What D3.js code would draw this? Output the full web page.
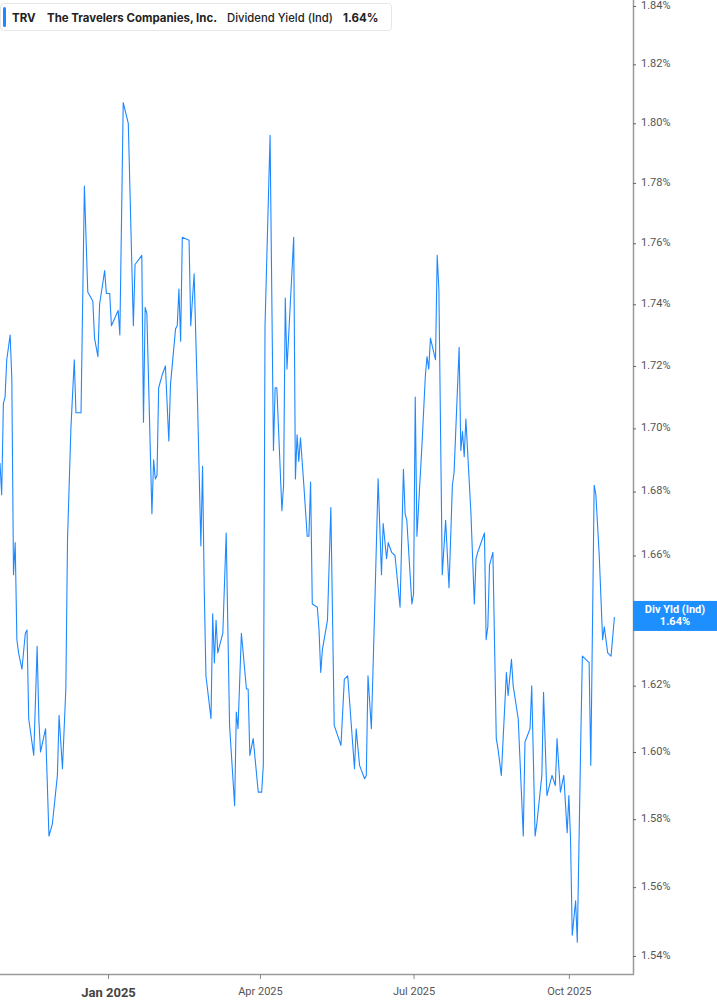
<!DOCTYPE html>
<html><head><meta charset="utf-8">
<script src="https://cdn.jsdelivr.net/npm/d3@7"></script>
<style>
html,body{margin:0;padding:0;background:#fff;}
svg{display:block;}
</style></head>
<body>
<svg id="chart" width="717" height="1005"></svg>
<script>
const ticker = "TRV";
const company = "The Travelers Companies, Inc.";
const metric = "Dividend Yield (Ind)";
const tagTitle = "Div Yld (Ind)";
const lastLabel = "1.64%";

const dates = [
"2024-10-29","2024-10-30","2024-10-31","2024-11-01","2024-11-02","2024-11-04","2024-11-05","2024-11-06","2024-11-07","2024-11-08",
"2024-11-09","2024-11-11","2024-11-13","2024-11-14","2024-11-15","2024-11-18","2024-11-20","2024-11-21","2024-11-22","2024-11-25",
"2024-11-27","2024-11-29","2024-12-02","2024-12-03","2024-12-05","2024-12-07","2024-12-08","2024-12-10","2024-12-12","2024-12-13",
"2024-12-15","2024-12-16","2024-12-18","2024-12-20","2024-12-23","2024-12-24","2024-12-26","2024-12-27","2024-12-30","2024-12-31",
"2025-01-02","2025-01-03","2025-01-07","2025-01-08","2025-01-10","2025-01-13","2025-01-16","2025-01-17","2025-01-21","2025-01-22",
"2025-01-23","2025-01-24","2025-01-27","2025-01-28","2025-01-29","2025-01-30","2025-01-31","2025-02-02","2025-02-04","2025-02-06",
"2025-02-07","2025-02-10","2025-02-11","2025-02-12","2025-02-13","2025-02-14","2025-02-18","2025-02-19","2025-02-21","2025-02-23",
"2025-02-25","2025-02-26","2025-02-27","2025-02-28","2025-03-03","2025-03-04","2025-03-05","2025-03-06","2025-03-07","2025-03-10",
"2025-03-12","2025-03-14","2025-03-17","2025-03-18","2025-03-19","2025-03-21","2025-03-24","2025-03-25","2025-03-26","2025-03-28",
"2025-03-31","2025-04-02","2025-04-03","2025-04-04","2025-04-07","2025-04-09","2025-04-10","2025-04-11","2025-04-14","2025-04-15",
"2025-04-16","2025-04-17","2025-04-21","2025-04-22","2025-04-23","2025-04-24","2025-04-25","2025-04-27","2025-04-29","2025-04-30",
"2025-05-01","2025-05-02","2025-05-05","2025-05-06","2025-05-07","2025-05-08","2025-05-11","2025-05-13","2025-05-15","2025-05-19",
"2025-05-21","2025-05-23","2025-05-27","2025-05-28","2025-05-30","2025-06-02","2025-06-03","2025-06-04","2025-06-06","2025-06-08",
"2025-06-10","2025-06-12","2025-06-13","2025-06-15","2025-06-16","2025-06-18","2025-06-20","2025-06-23","2025-06-25","2025-06-26",
"2025-06-27","2025-06-30","2025-07-01","2025-07-02","2025-07-03","2025-07-06","2025-07-08","2025-07-09","2025-07-10","2025-07-11",
"2025-07-14","2025-07-15","2025-07-16","2025-07-18","2025-07-20","2025-07-22","2025-07-24","2025-07-25","2025-07-28","2025-07-29",
"2025-07-30","2025-07-31","2025-08-01","2025-08-04","2025-08-06","2025-08-07","2025-08-08","2025-08-12","2025-08-13","2025-08-14",
"2025-08-15","2025-08-17","2025-08-19","2025-08-20","2025-08-22","2025-08-25","2025-08-26","2025-08-28","2025-08-29","2025-09-01",
"2025-09-04","2025-09-05","2025-09-08","2025-09-09","2025-09-11","2025-09-12","2025-09-15","2025-09-16","2025-09-18","2025-09-19",
"2025-09-21","2025-09-23","2025-09-24","2025-09-26","2025-09-28","2025-09-30","2025-10-01","2025-10-02","2025-10-03","2025-10-05",
"2025-10-06","2025-10-08","2025-10-09","2025-10-13","2025-10-14","2025-10-16","2025-10-17","2025-10-19","2025-10-21","2025-10-22",
"2025-10-24","2025-10-26","2025-10-28"
];

const yields = [
1.689,1.679,1.708,1.710,1.722,1.730,1.716,1.654,1.664,1.634,
1.630,1.625,1.636,1.637,1.610,1.599,1.632,1.610,1.600,1.607,
1.575,1.5785,1.593,1.611,1.595,1.619,1.665,1.700,1.722,1.705,
1.705,1.705,1.779,1.744,1.741,1.729,1.723,1.740,1.751,1.7435,
1.7435,1.733,1.738,1.730,1.807,1.800,1.733,1.753,1.756,1.702,
1.739,1.737,1.673,1.690,1.684,1.685,1.713,1.717,1.720,1.696,
1.714,1.732,1.733,1.745,1.728,1.762,1.761,1.733,1.750,1.709,
1.663,1.688,1.6495,1.623,1.610,1.642,1.627,1.640,1.630,1.636,
1.667,1.608,1.584,1.612,1.607,1.636,1.619,1.619,1.599,1.604,
1.588,1.588,1.596,1.733,1.796,1.693,1.713,1.713,1.674,1.682,
1.742,1.719,1.762,1.684,1.698,1.6895,1.697,1.682,1.666,1.666,
1.683,1.645,1.644,1.637,1.624,1.631,1.640,1.675,1.608,1.602,
1.622,1.623,1.595,1.607,1.596,1.592,1.593,1.623,1.607,1.644,
1.684,1.654,1.670,1.659,1.664,1.661,1.660,1.644,1.687,1.673,
1.671,1.645,1.648,1.710,1.666,1.695,1.717,1.723,1.719,1.729,
1.722,1.756,1.745,1.654,1.671,1.650,1.682,1.686,1.726,1.693,
1.699,1.691,1.703,1.673,1.645,1.659,1.661,1.667,1.634,1.638,
1.657,1.661,1.604,1.601,1.593,1.624,1.617,1.628,1.620,1.610,
1.575,1.603,1.607,1.620,1.575,1.5785,1.593,1.618,1.587,1.589,
1.593,1.590,1.604,1.588,1.593,1.576,1.587,1.574,1.546,1.556,
1.544,1.602,1.629,1.627,1.596,1.682,1.679,1.660,1.634,1.638,
1.630,1.629,1.641
];

const yTicks = [1.54,1.56,1.58,1.60,1.62,1.64,1.66,1.68,1.70,1.72,1.74,1.76,1.78,1.80,1.82,1.84];
const hiddenTick = 1.64; // label covered by the last-value tag
const xTicks = ["2025-01-01","2025-04-01","2025-07-01","2025-10-01"];
const xTickLabels = ["Jan 2025","Apr 2025","Jul 2025","Oct 2025"];
const xDomain = ["2024-10-29","2025-11-08"];

const parse = d3.utcParse("%Y-%m-%d");
const data = dates.map((d,i)=>({date:parse(d), v:yields[i]}));

const plotRight = 633, plotBottom = 974;
const x = d3.scaleUtc().domain(xDomain.map(parse)).range([0, plotRight]);
const y = d3.scaleLog().domain([1.54, 1.84]).range([956, 6]);

const svg = d3.select("#chart");
const lineColor = "#1e88ff";

// line
svg.append("path")
  .datum(data)
  .attr("fill","none")
  .attr("stroke",lineColor)
  .attr("stroke-width",1.1)
  .attr("stroke-linejoin","round")
  .attr("d", d3.line().x(d=>x(d.date)).y(d=>y(d.v)));

// right axis
const yAxis = d3.axisRight(y).tickValues(yTicks).tickSize(3).tickPadding(5)
  .tickFormat(d=>Math.abs(d-hiddenTick)<1e-9 ? "" : d.toFixed(2)+"%");
const ya = svg.append("g").attr("transform",`translate(${plotRight},0)`).call(yAxis);
ya.select(".domain").attr("d",`M0.5,0V${plotBottom}`).attr("stroke","#9a9a9a").attr("stroke-width",1.5);
ya.selectAll(".tick line").attr("stroke","#666");
ya.selectAll(".tick text").attr("fill","#555").attr("dy","0.2em").style("font-family","Roboto, 'Liberation Sans', sans-serif").style("font-size","11px");

// bottom axis
const xAxis = d3.axisBottom(x).tickValues(xTicks.map(parse)).tickSize(5).tickPadding(8)
  .tickFormat((d,i)=>xTickLabels[i]);
const xa = svg.append("g").attr("transform",`translate(0,${plotBottom})`).call(xAxis);
xa.select(".domain").attr("d",`M0,0.5H${plotRight+1}`).attr("stroke","#9a9a9a").attr("stroke-width",1.5);
xa.selectAll(".tick line").attr("stroke","#888");
xa.selectAll(".tick text").attr("fill","#555").style("font-family","Roboto, 'Liberation Sans', sans-serif").style("font-size","11px");
xa.selectAll(".tick text").filter((d,i)=>i===0).attr("fill","#444").style("font-weight","bold").style("font-size","13px").attr("dy","0.8em");

// right tag
const lastV = yields[yields.length-1];
const tag = svg.append("g").attr("transform",`translate(${plotRight},${y(lastV)})`);
tag.append("rect").attr("x",0).attr("y",-16).attr("width",717-plotRight).attr("height",30).attr("fill","#1e8fff");
tag.append("text").attr("x",(717-plotRight)/2).attr("y",-4).attr("text-anchor","middle")
  .attr("fill","#fff").style("font-family","Roboto, sans-serif").style("font-size","11px").style("font-weight","bold").text(tagTitle);
tag.append("text").attr("x",(717-plotRight)/2).attr("y",8).attr("text-anchor","middle")
  .attr("fill","#fff").style("font-family","Roboto, sans-serif").style("font-size","11px").style("font-weight","bold").text(lastLabel);

// legend
const lg = svg.append("g");
lg.append("rect").attr("x",0.5).attr("y",3.5).attr("width",391).attr("height",27).attr("rx",3)
  .attr("fill","#fff").attr("stroke","#e6e6e6");
lg.append("rect").attr("x",3).attr("y",7).attr("width",3).attr("height",20).attr("rx",1.5).attr("fill",lineColor);
const lt = lg.append("text").attr("y",21.5).style("font-family","Inter, 'Open Sans', sans-serif").style("font-size","11.5px").attr("fill","#222");
lt.append("tspan").attr("x",12).style("font-weight","bold").text(ticker);
lt.append("tspan").attr("x",47).style("font-weight","bold").attr("textLength",170).attr("lengthAdjust","spacingAndGlyphs").text(company);
lt.append("tspan").attr("x",227).style("font-weight","500").attr("textLength",106).attr("lengthAdjust","spacingAndGlyphs").text(metric);
lt.append("tspan").attr("x",343).style("font-weight","bold").text(lastLabel);
</script>
</body></html>
